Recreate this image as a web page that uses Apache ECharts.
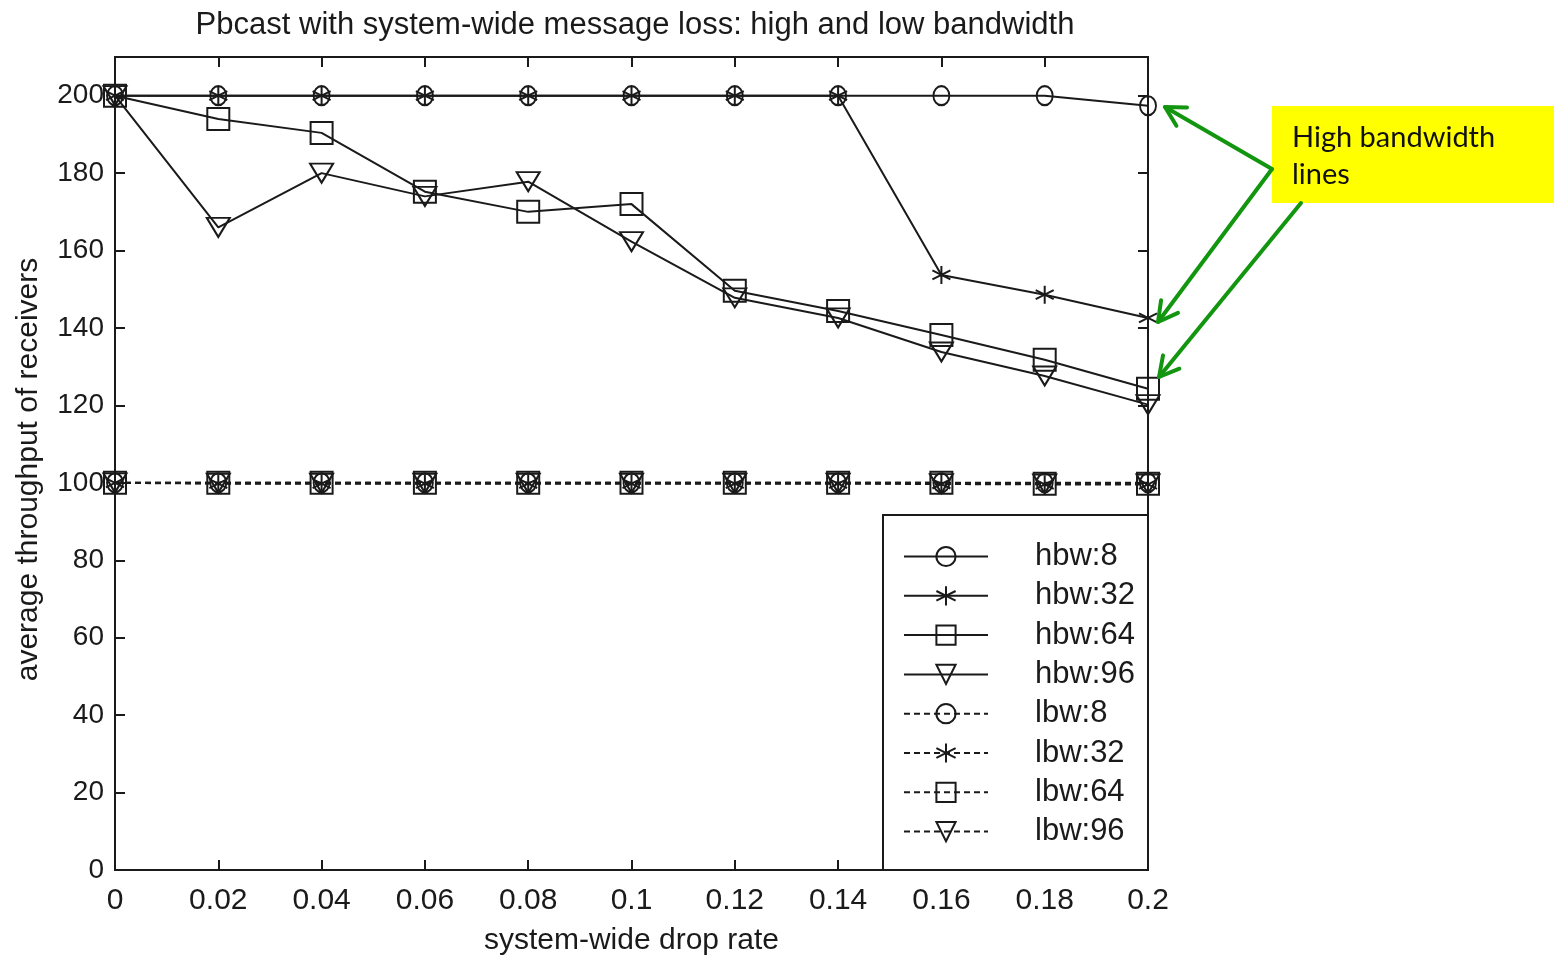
<!DOCTYPE html>
<html>
<head>
<meta charset="utf-8">
<title>Pbcast with system-wide message loss</title>
<script src="https://cdn.jsdelivr.net/npm/echarts@6/dist/echarts.min.js"></script>
<style>
  html, body { margin: 0; padding: 0; background: #fff; }
  #main { width: 1556px; height: 956px; }
</style>
</head>
<body>
<div id="main"></div>
<script>
// drop rates on the x axis
const dropRates = [0, 0.02, 0.04, 0.06, 0.08, 0.1, 0.12, 0.14, 0.16, 0.18, 0.2];

// high bandwidth runs
const hbw8  = [200, 200, 200, 200, 200, 200, 200, 200, 200, 200, 197.4];
const hbw32 = [200, 200, 200, 200, 200, 200, 200, 200, 153.7, 148.6, 142.6];
const hbw64 = [200, 194, 190.4, 175.2, 170, 172, 149.6, 144.4, 138.2, 131.8, 124.3];
const hbw96 = [200, 166, 180, 174, 177.8, 162.3, 147.8, 142.6, 133.8, 127.6, 120.2];

// low bandwidth runs
const lbw8  = [100, 100, 100, 100, 100, 100, 100, 100, 100, 100, 100];
const lbw32 = [100, 99.8, 99.8, 99.8, 99.8, 99.8, 99.8, 99.8, 99.7, 99.6, 99.6];
const lbw64 = [100, 100, 100, 100, 100, 100, 100, 100, 100, 99.8, 99.8];
const lbw96 = [100, 99.9, 99.9, 99.9, 99.9, 99.9, 99.9, 99.9, 99.8, 99.7, 99.7];

const yTicks = [0, 20, 40, 60, 80, 100, 120, 140, 160, 180, 200];

const INK = '#1a1a1a';
const FONT = '"Liberation Sans", Arial, sans-serif';

// marker shapes (gnuplot style, hollow)
const STAR = 'path://M0,-1L0,1M-0.87,-0.5L0.87,0.5M-0.87,0.5L0.87,-0.5';
const TRI = 'path://M-1,-0.85L1,-0.85L0,0.95Z';
const SQ = 'path://M-1,-1L1,-1L1,1L-1,1Z';
const markers = [
  { symbol: 'circle', size: [16, 19] },
  { symbol: STAR, size: 18 },
  { symbol: SQ, size: 22 },
  { symbol: TRI, size: [23, 19] }
];

function pairs(ys) {
  return dropRates.map((x, i) => [x, ys[i]]);
}

function makeSeries(name, ys, k, dashed) {
  return {
    name: name,
    type: 'line',
    data: pairs(ys),
    clip: false,
    symbol: markers[k].symbol,
    symbolSize: markers[k].size,
    showAllSymbol: true,
    lineStyle: { color: INK, width: 2, type: dashed ? [6, 4] : 'solid' },
    itemStyle: { color: 'none', borderColor: INK, borderWidth: 2 },
    emphasis: { disabled: true },
    z: 2
  };
}

const series = [
  makeSeries('hbw:8', hbw8, 0, false),
  makeSeries('hbw:32', hbw32, 1, false),
  makeSeries('hbw:64', hbw64, 2, false),
  makeSeries('hbw:96', hbw96, 3, false),
  makeSeries('lbw:8', lbw8, 0, true),
  makeSeries('lbw:32', lbw32, 1, true),
  makeSeries('lbw:64', lbw64, 2, true),
  makeSeries('lbw:96', lbw96, 3, true)
];

// green callout arrows: shaft plus an open head at the tip
const GREEN = '#13960f';
function arrow(x1, y1, x2, y2) {
  const a = Math.atan2(y2 - y1, x2 - x1);
  const L = 22, s = 0.5;
  const h1 = [x2 - L * Math.cos(a - s), y2 - L * Math.sin(a - s)];
  const h2 = [x2 - L * Math.cos(a + s), y2 - L * Math.sin(a + s)];
  const st = { stroke: GREEN, lineWidth: 4, fill: null, lineCap: 'round', lineJoin: 'round' };
  return [
    { type: 'polyline', shape: { points: [[x1, y1], [x2, y2]] }, style: st, z: 10 },
    { type: 'polyline', shape: { points: [h1, [x2, y2], h2] }, style: st, z: 10 }
  ];
}

const tickStyle = { inside: true, length: 10, lineStyle: { color: INK, width: 2 } };

const chart = echarts.init(document.getElementById('main'));

const option = {
  animation: false,
  backgroundColor: '#fff',
  title: {
    text: 'Pbcast with system-wide message loss: high and low bandwidth',
    left: 630,
    top: 5,
    textAlign: 'center',
    textStyle: { fontFamily: FONT, fontSize: 31, fontWeight: 'normal', color: INK }
  },
  grid: {
    left: 115, right: 408, top: 57, bottom: 86,
    outerBoundsMode: 'none',
    containLabel: false,
    show: true, borderColor: INK, borderWidth: 2, backgroundColor: 'transparent'
  },
  legend: {
    orient: 'vertical',
    left: 903,
    top: 541,
    itemWidth: 84,
    itemHeight: 24,
    itemGap: 8.3,
    data: series.map(s => s.name),
    textStyle: { fontFamily: FONT, fontSize: 31, color: INK, padding: [0, 0, 0, 42] },
    padding: 0,
    selectedMode: false,
    z: 6
  },
  xAxis: [
    {
      type: 'value', min: 0, max: 0.2, interval: 0.02,
      name: 'system-wide drop rate', nameLocation: 'middle', nameGap: 56,
      nameTextStyle: { fontFamily: FONT, fontSize: 30, color: INK },
      axisLine: { onZero: false, lineStyle: { color: INK, width: 2 } },
      axisTick: tickStyle,
      axisLabel: {
        fontFamily: FONT, fontSize: 30, color: INK, margin: 16,
        formatter: v => String(parseFloat(v.toFixed(2)))
      },
      splitLine: { show: false }
    },
    {
      type: 'value', min: 0, max: 0.2, interval: 0.02, position: 'top',
      axisLine: { onZero: false, lineStyle: { color: INK, width: 2 } },
      axisTick: tickStyle,
      axisLabel: { show: false },
      splitLine: { show: false }
    }
  ],
  yAxis: [
    {
      type: 'value', min: 0, max: 210, interval: 20,
      name: 'average throughput of receivers', nameLocation: 'middle', nameGap: 71,
      nameTextStyle: { fontFamily: FONT, fontSize: 30, color: INK, padding: [0, 12, 0, 0] },
      axisLine: { onZero: false, lineStyle: { color: INK, width: 2 } },
      axisTick: tickStyle,
      axisLabel: {
        fontFamily: FONT, fontSize: 28, color: INK, margin: 11,
        formatter: v => (yTicks.indexOf(v) >= 0 ? String(v) : '')
      },
      splitLine: { show: false }
    },
    {
      type: 'value', min: 0, max: 210, interval: 20, position: 'right',
      axisLine: { onZero: false, lineStyle: { color: INK, width: 2 } },
      axisTick: tickStyle,
      axisLabel: { show: false },
      splitLine: { show: false }
    }
  ],
  series: series,
  graphic: [
    // legend frame (white, covers the plot beneath it)
    {
      type: 'rect', z: 5,
      shape: { x: 883, y: 515, width: 265, height: 355 },
      style: { fill: '#fff', stroke: INK, lineWidth: 2 }
    },
    // yellow callout
    {
      type: 'rect', z: 9,
      shape: { x: 1272, y: 106, width: 282, height: 97 },
      style: { fill: '#ffff00' }
    },
    {
      type: 'text', z: 11, left: 1292, top: 119,
      style: {
        text: 'High bandwidth\nlines', fill: '#111',
        font: '29px Lato, "Noto Sans", sans-serif', lineHeight: 37
      }
    },
    ...arrow(1272, 169, 1165, 107),
    ...arrow(1272, 169, 1158, 322),
    ...arrow(1301, 203, 1159, 377)
  ]
};

chart.setOption(option);
</script>
</body>
</html>
